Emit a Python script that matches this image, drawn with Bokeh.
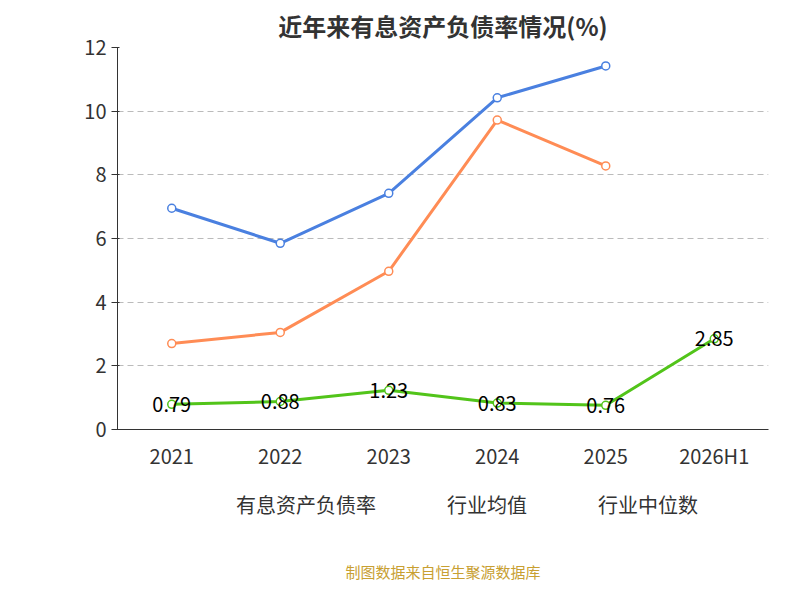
import math
from bokeh.plotting import figure
from bokeh.layouts import column
from bokeh.models import Range1d, Legend, LegendItem, Label, ColumnDataSource, FixedTicker
from bokeh.core.properties import value
from bokeh.embed import file_html
from bokeh.resources import INLINE

years = ["2021", "2022", "2023", "2024", "2025", "2026H1"]
debt = [0.79, 0.88, 1.23, 0.83, 0.76, 2.85]
avg_years = ["2021", "2022", "2023", "2024", "2025"]
avg = [6.95, 5.85, 7.42, 10.42, 11.42]
med = [2.7, 3.05, 4.97, 9.72, 8.28]
series_names = ["有息资产负债率", "行业均值", "行业中位数"]
footer = "制图数据来自恒生聚源数据库"

FONT = "Noto Sans CJK SC"
cg, cb, co = "#52c41a", "#4a80e0", "#ff8c55"

p = figure(x_range=years, y_range=Range1d(0, 12), width=784, height=472,
           output_backend="svg", toolbar_location=None,
           min_border_left=117, min_border_right=16, min_border_top=30, min_border_bottom=10)
p.title.text = "近年来有息资产负债率情况(%)"
p.title.align = "center"
p.title.text_font = FONT
p.title.text_font_size = "24px"
p.title.text_color = "#333333"
p.outline_line_color = None
p.xgrid.grid_line_color = None
p.ygrid.grid_line_dash = "6 4"
p.ygrid.grid_line_color = "#bbbbbb"
p.yaxis.ticker = FixedTicker(ticks=[0, 2, 4, 6, 8, 10, 12])
for ax in (p.xaxis, p.yaxis):
    ax.major_label_text_font = FONT
    ax.major_label_text_font_size = "20px"
    ax.major_label_text_color = "#333333"
    ax.axis_line_color = "#333333"
    ax.major_tick_line_color = "#333333"
    ax.minor_tick_line_color = None
p.xaxis.major_tick_line_color = None

p.line(years, debt, line_color=cg, line_width=3)
p.scatter(years, debt, size=8, fill_color="white", line_color=cg, line_width=1.5)
p.line(avg_years, avg, line_color=cb, line_width=3)
p.scatter(avg_years, avg, size=8, fill_color="white", line_color=cb, line_width=1.5)
p.line(avg_years, med, line_color=co, line_width=3)
p.scatter(avg_years, med, size=8, fill_color="white", line_color=co, line_width=1.5)

src = ColumnDataSource(dict(x=years, y=debt, t=[f"{v:.2f}" for v in debt]))
p.text("x", "y", text="t", source=src, text_align="center", text_baseline="middle",
       text_font=value(FONT), text_font_size="20px", text_color="black")
p.add_layout(Label(x=-65, y=310, x_units="screen", y_units="screen", text="(%)",
                   angle=math.pi / 2, text_color="red", text_font=FONT, text_font_size="16px"))

q = figure(width=784, height=112, x_range=Range1d(0, 1), y_range=Range1d(0, 1),
           output_backend="svg", toolbar_location=None, min_border=0)
q.axis.visible = False
q.grid.visible = False
q.outline_line_color = None
items = []
for name, c in zip(series_names, [cg, cb, co]):
    l = q.line([], [], line_color=c, line_width=3)
    s = q.scatter([], [], size=18, fill_color="white", line_color=c, line_width=1.5)
    items.append(LegendItem(label=name, renderers=[l, s]))
legend = Legend(items=items, orientation="horizontal", location="top_center",
                border_line_color=None, background_fill_alpha=0,
                label_text_font=FONT, label_text_font_size="20px", label_text_color="#333333",
                glyph_width=44, spacing=22, margin=18)
q.add_layout(legend, "center")
q.text([0.5], [0.12], text=[footer], text_align="center", text_baseline="middle",
       text_font=value(FONT), text_font_size="15px", text_color="#c8a032")

open("out.html", "w").write(file_html(column(p, q, spacing=0), INLINE))
